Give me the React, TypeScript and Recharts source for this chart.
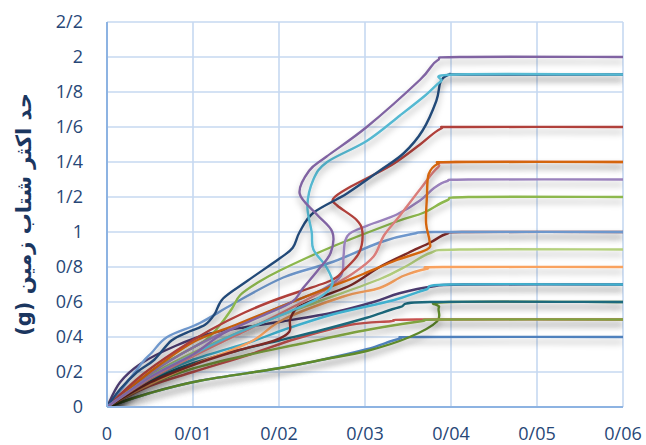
import { LineChart, Line, XAxis, YAxis, CartesianGrid } from 'recharts';

// drift (x) vs peak ground acceleration in g (y), one array per record
const purpleTop = [[0, 0], [0.005, 0.17], [0.01, 0.3], [0.0135, 0.42], [0.018, 0.52], [0.0215, 0.6], [0.0228, 0.68], [0.0245, 0.78], [0.026, 0.88], [0.0262, 1.0], [0.0244, 1.1], [0.0224, 1.22], [0.0235, 1.35], [0.0255, 1.43], [0.0302, 1.6], [0.0364, 1.87], [0.0384, 1.98], [0.041, 2.0], [0.06, 2.0]];
const aquaTop = [[0, 0], [0.005, 0.17], [0.01, 0.3], [0.015, 0.42], [0.02, 0.52], [0.0245, 0.62], [0.0262, 0.7], [0.0255, 0.8], [0.024, 0.9], [0.0238, 1.0], [0.0233, 1.15], [0.024, 1.3], [0.0256, 1.4], [0.0302, 1.52], [0.0341, 1.667], [0.037, 1.78], [0.0388, 1.86], [0.0405, 1.9], [0.06, 1.9]];
const navy = [[0, 0], [0.0015, 0.1], [0.0035, 0.2], [0.0055, 0.27], [0.0075, 0.38], [0.0095, 0.43], [0.0114, 0.47], [0.0125, 0.53], [0.0135, 0.62], [0.0163, 0.72], [0.0201, 0.85], [0.0216, 0.91], [0.0224, 1.0], [0.024, 1.11], [0.0279, 1.22], [0.0317, 1.35], [0.0345, 1.45], [0.0367, 1.58], [0.0383, 1.75], [0.0388, 1.86], [0.0398, 1.9], [0.042, 1.9], [0.06, 1.9]];
const darkRed = [[0, 0], [0.004, 0.18], [0.008, 0.32], [0.012, 0.44], [0.016, 0.54], [0.02, 0.62], [0.0259, 0.72], [0.0275, 0.78], [0.0293, 0.88], [0.0297, 1.0], [0.029, 1.07], [0.0268, 1.15], [0.0263, 1.19], [0.028, 1.25], [0.033, 1.38], [0.0364, 1.5], [0.0388, 1.59], [0.041, 1.6], [0.06, 1.6]];
const orange = [[0, 0], [0.005, 0.2], [0.01, 0.37], [0.015, 0.47], [0.02, 0.57], [0.0267, 0.7], [0.0298, 0.76], [0.0337, 0.84], [0.0372, 0.9], [0.0375, 0.95], [0.0371, 1.05], [0.0372, 1.2], [0.0374, 1.33], [0.0385, 1.39], [0.0405, 1.4], [0.06, 1.4]];
const salmon = [[0, 0], [0.005, 0.16], [0.01, 0.29], [0.015, 0.41], [0.02, 0.53], [0.025, 0.66], [0.0285, 0.76], [0.031, 0.86], [0.0322, 0.98], [0.034, 1.09], [0.0365, 1.25], [0.0385, 1.37], [0.0405, 1.4], [0.06, 1.4]];
const lilac = [[0, 0], [0.005, 0.19], [0.01, 0.34], [0.015, 0.46], [0.02, 0.57], [0.025, 0.67], [0.0272, 0.75], [0.0275, 0.86], [0.0277, 0.95], [0.0285, 1.0], [0.031, 1.05], [0.0337, 1.1], [0.0364, 1.18], [0.038, 1.25], [0.0395, 1.29], [0.042, 1.3], [0.06, 1.3]];
const green = [[0, 0], [0.003, 0.12], [0.0056, 0.22], [0.0085, 0.3], [0.0114, 0.38], [0.013, 0.46], [0.0145, 0.56], [0.0155, 0.64], [0.0175, 0.71], [0.0201, 0.78], [0.0259, 0.91], [0.0337, 1.06], [0.0368, 1.11], [0.0395, 1.18], [0.042, 1.2], [0.06, 1.2]];
const blue = [[0, 0], [0.002, 0.12], [0.0042, 0.26], [0.0052, 0.31], [0.007, 0.4], [0.0108, 0.48], [0.0147, 0.59], [0.0205, 0.74], [0.0263, 0.83], [0.0317, 0.94], [0.0356, 0.99], [0.039, 1.0], [0.06, 1.0]];
const brown = [[0, 0], [0.005, 0.14], [0.01, 0.24], [0.015, 0.32], [0.0195, 0.38], [0.0212, 0.43], [0.0213, 0.5], [0.0222, 0.57], [0.025, 0.63], [0.0285, 0.7], [0.0317, 0.8], [0.035, 0.88], [0.0376, 0.94], [0.0395, 0.99], [0.042, 1.0], [0.06, 1.0]];
const paleGreen = [[0, 0], [0.005, 0.18], [0.01, 0.31], [0.015, 0.42], [0.02, 0.52], [0.025, 0.61], [0.0317, 0.73], [0.035, 0.81], [0.0376, 0.88], [0.041, 0.9], [0.06, 0.9]];
const paleOrange = [[0, 0], [0.005, 0.13], [0.01, 0.24], [0.0166, 0.37], [0.0205, 0.5], [0.0274, 0.63], [0.0317, 0.68], [0.0345, 0.75], [0.0372, 0.79], [0.039, 0.8], [0.06, 0.8]];
const aqua = [[0, 0], [0.005, 0.16], [0.01, 0.27], [0.0166, 0.37], [0.0205, 0.44], [0.0263, 0.53], [0.0333, 0.61], [0.037, 0.67], [0.0399, 0.7], [0.06, 0.7]];
const plum = [[0, 0], [0.0015, 0.14], [0.004, 0.25], [0.008, 0.35], [0.012, 0.42], [0.0166, 0.46], [0.0205, 0.49], [0.0263, 0.54], [0.031, 0.6], [0.034, 0.65], [0.038, 0.69], [0.0415, 0.7], [0.06, 0.7]];
const teal = [[0, 0], [0.005, 0.15], [0.01, 0.25], [0.015, 0.32], [0.02, 0.38], [0.025, 0.44], [0.0302, 0.51], [0.034, 0.57], [0.0375, 0.6], [0.06, 0.6]];
const red = [[0, 0], [0.005, 0.12], [0.01, 0.2], [0.0166, 0.3], [0.022, 0.39], [0.0283, 0.47], [0.033, 0.49], [0.036, 0.5], [0.06, 0.5]];
const olive = [[0, 0], [0.005, 0.08], [0.0108, 0.15], [0.0198, 0.22], [0.025, 0.27], [0.0302, 0.32], [0.0352, 0.4], [0.0384, 0.49], [0.0386, 0.57], [0.0398, 0.6], [0.06, 0.6]];
const grass = [[0, 0], [0.005, 0.13], [0.01, 0.22], [0.0166, 0.3], [0.0224, 0.36], [0.0302, 0.44], [0.0365, 0.49], [0.039, 0.5], [0.06, 0.5]];
const steel = [[0, 0], [0.005, 0.08], [0.0108, 0.15], [0.0198, 0.22], [0.025, 0.27], [0.0302, 0.33], [0.034, 0.39], [0.0365, 0.4], [0.06, 0.4]];

const xTicks = [0, 0.01, 0.02, 0.03, 0.04, 0.05, 0.06];
const xTickLabels = ['0', '0/01', '0/02', '0/03', '0/04', '0/05', '0/06'];
const yTicks = [0, 0.2, 0.4, 0.6, 0.8, 1, 1.2, 1.4, 1.6, 1.8, 2, 2.2];
const yTickLabels = ['0', '0/2', '0/4', '0/6', '0/8', '1', '1/2', '1/4', '1/6', '1/8', '2', '2/2'];
const yTitle = 'حد اکثر شتاب زمین (g)';

const series = [
  { key: 'steel', data: steel, color: '#4F81BD' },
  { key: 'olive', data: olive, color: '#5E8A2C' },
  { key: 'red', data: red, color: '#C8524F' },
  { key: 'grass', data: grass, color: '#7FA33F' },
  { key: 'teal', data: teal, color: '#1F6A7D' },
  { key: 'plum', data: plum, color: '#4B3A6E' },
  { key: 'aqua', data: aqua, color: '#3FB0CE' },
  { key: 'paleOrange', data: paleOrange, color: '#F9A25E' },
  { key: 'paleGreen', data: paleGreen, color: '#B5D07E' },
  { key: 'brown', data: brown, color: '#7E2A28' },
  { key: 'blue', data: blue, color: '#6E97CC' },
  { key: 'green', data: green, color: '#8DB84E' },
  { key: 'lilac', data: lilac, color: '#9A82BC' },
  { key: 'salmon', data: salmon, color: '#DA7D7A' },
  { key: 'orange', data: orange, color: '#D4650E' },
  { key: 'darkRed', data: darkRed, color: '#B0403A' },
  { key: 'navy', data: navy, color: '#234A78' },
  { key: 'aquaTop', data: aquaTop, color: '#55B9D2' },
  { key: 'purpleTop', data: purpleTop, color: '#8064A2' },
];

// Excel-like smoothing (Catmull-Rom through each point, x may go backwards)
function smooth(context: any) {
  let pts: number[][] = [];
  return {
    areaStart() {},
    areaEnd() {},
    lineStart() {
      pts = [];
    },
    point(x: number, y: number) {
      pts.push([x, y]);
    },
    lineEnd() {
      if (!pts.length) return;
      context.moveTo(pts[0][0], pts[0][1]);
      for (let i = 0; i < pts.length - 1; i++) {
        const p0 = pts[i - 1] || pts[i];
        const p1 = pts[i];
        const p2 = pts[i + 1];
        const p3 = pts[i + 2] || p2;
        context.bezierCurveTo(
          p1[0] + (p2[0] - p0[0]) / 6,
          p1[1] + (p2[1] - p0[1]) / 6,
          p2[0] - (p3[0] - p1[0]) / 6,
          p2[1] - (p3[1] - p1[1]) / 6,
          p2[0],
          p2[1]
        );
      }
    },
  };
}

const tickStyle = { fontFamily: '"Open Sans", sans-serif', fontSize: 18, fill: '#274777' };

export default function App() {
  return (
    <div style={{ position: 'relative', width: 646, height: 445, background: '#fff' }}>
      <style>{'body{margin:0}.recharts-line-curve{filter:url(#lineShadow)}'}</style>
      <svg width="0" height="0" style={{ position: 'absolute' }}>
        <defs>
          <filter id="lineShadow" filterUnits="userSpaceOnUse" x="0" y="0" width="646" height="445">
            <feDropShadow dx="0" dy="5" stdDeviation="3" floodColor="#000" floodOpacity="0.3" />
          </filter>
        </defs>
      </svg>
      <LineChart width={646} height={445} margin={{ top: 22, right: 23, bottom: 8, left: 0 }}>
        <CartesianGrid stroke="#C6D9F1" strokeWidth={1.6} />
        <XAxis
          type="number"
          dataKey="x"
          domain={[0, 0.06]}
          ticks={xTicks}
          tickFormatter={(v, i) => xTickLabels[i]}
          tick={tickStyle}
          tickLine={false}
          tickSize={6}
          tickMargin={14}
          height={30}
          axisLine={{ stroke: '#8DB3E2', strokeWidth: 2 }}
          allowDataOverflow
        />
        <YAxis
          type="number"
          domain={[0, 2.2]}
          ticks={yTicks}
          tickFormatter={(v, i) => yTickLabels[i]}
          tick={tickStyle}
          tickLine={false}
          tickSize={6}
          tickMargin={18}
          width={107}
          axisLine={{ stroke: '#8DB3E2', strokeWidth: 2 }}
          allowDataOverflow
          label={{
            value: yTitle,
            angle: -90,
            position: 'insideLeft',
            offset: 24,
            style: {
              textAnchor: 'middle',
              direction: 'rtl',
              fontFamily: '"DejaVu Sans", sans-serif',
              fontWeight: 'bold',
              fontSize: 21,
              fill: '#1B365F',
            },
          }}
        />
        {series.map((s) => (
          <Line
            key={s.key}
            data={s.data.map(([x, y]) => ({ x, y }))}
            dataKey="y"
            type={smooth as any}
            stroke={s.color}
            strokeWidth={2.4}
            dot={false}
            activeDot={false}
            isAnimationActive={false}
          />
        ))}
      </LineChart>
    </div>
  );
}
